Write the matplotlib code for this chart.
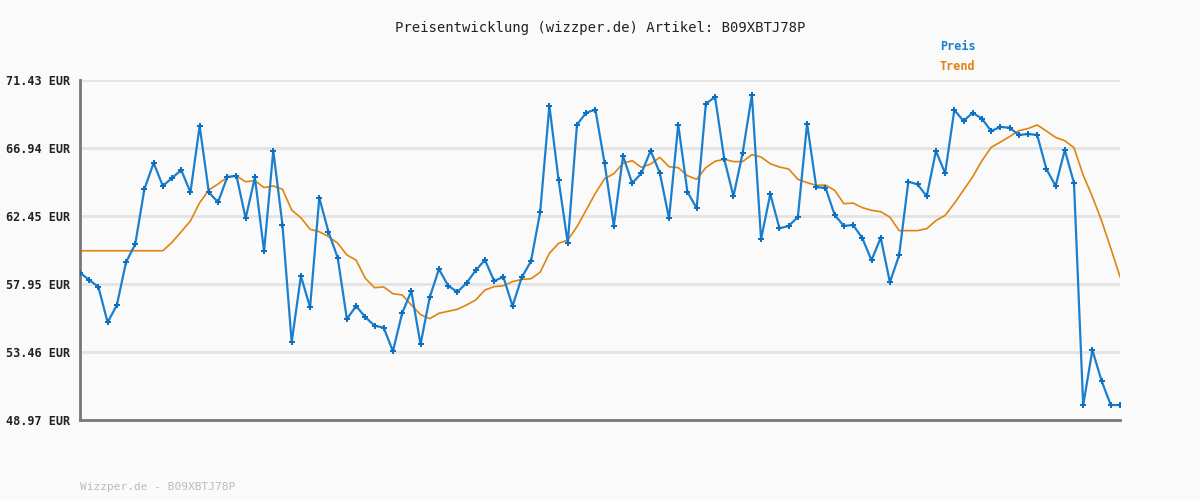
import numpy as np
import matplotlib
matplotlib.use("Agg")
import matplotlib.pyplot as plt

# price history (EUR), one value per sample
preis = [58.70, 58.22, 57.76, 55.42, 56.55, 59.39, 60.58, 64.23, 65.95, 64.43,
         64.96, 65.48, 64.01, 68.39, 64.01, 63.35, 65.02, 65.11, 62.29, 65.00,
         60.11, 66.76, 61.85, 54.10, 58.48, 56.41, 63.65, 61.39, 59.69, 55.64,
         56.50, 55.77, 55.20, 55.07, 53.51, 56.02, 57.49, 53.97, 57.08, 58.94,
         57.84, 57.43, 58.02, 58.86, 59.54, 58.15, 58.42, 56.50, 58.40, 59.45,
         62.71, 69.73, 64.82, 60.66, 68.48, 69.27, 69.47, 65.93, 61.79, 66.41,
         64.61, 65.27, 66.76, 65.29, 62.29, 68.48, 64.03, 62.97, 69.86, 70.31,
         66.21, 63.75, 66.61, 70.44, 60.91, 63.90, 61.63, 61.79, 62.38, 68.54,
         64.34, 64.32, 62.51, 61.79, 61.85, 60.99, 59.52, 61.01, 58.07, 59.85,
         64.71, 64.54, 63.75, 66.74, 65.27, 69.45, 68.72, 69.27, 68.87, 68.06,
         68.33, 68.28, 67.80, 67.86, 67.80, 65.55, 64.43, 66.81, 64.63, 49.94,
         53.59, 51.55, 49.96, 49.96]

trend = [60.15, 60.15, 60.15, 60.15, 60.15, 60.15, 60.15, 60.15, 60.15, 60.15,
         60.71, 61.41, 62.12, 63.32, 64.16, 64.56, 65.00, 65.09, 64.71, 64.78,
         64.32, 64.43, 64.21, 62.84, 62.33, 61.57, 61.41, 61.08, 60.65, 59.87,
         59.53, 58.33, 57.71, 57.76, 57.31, 57.23, 56.57, 55.93, 55.66, 56.02,
         56.15, 56.28, 56.57, 56.90, 57.56, 57.78, 57.84, 58.11, 58.26, 58.30,
         58.73, 59.98, 60.64, 60.86, 61.74, 62.84, 63.95, 64.91, 65.24, 65.93,
         66.10, 65.66, 65.88, 66.32, 65.70, 65.64, 65.11, 64.87, 65.64, 66.06,
         66.19, 66.04, 66.04, 66.50, 66.34, 65.90, 65.68, 65.55, 64.87, 64.65,
         64.47, 64.49, 64.14, 63.26, 63.30, 63.00, 62.82, 62.73, 62.37, 61.48,
         61.48, 61.48, 61.61, 62.14, 62.49, 63.28, 64.16, 65.04, 66.10, 66.98,
         67.33, 67.69, 68.08, 68.22, 68.46, 68.06, 67.64, 67.42, 66.96, 65.15,
         63.72, 62.14, 60.31, 58.44]

ytick_vals = [48.97, 53.46, 57.95, 62.45, 66.94, 71.43]
ytick_labels = ["48.97 EUR", "53.46 EUR", "57.95 EUR", "62.45 EUR", "66.94 EUR", "71.43 EUR"]
artikel = "B09XBTJ78P"

blue = "#1a7fcf"
orange = "#e0830f"
bg = "#fafafa"

fig = plt.figure(figsize=(12, 5), dpi=100, facecolor=bg)
ax = fig.add_axes([80/1200, 80/500, 1040/1200, 340/500], facecolor=bg)

x = np.arange(len(preis))
for v in ytick_vals[1:]:
    ax.axhline(v, color="#e3e3e3", lw=2, zorder=0)

ax.plot(x, trend, color=orange, lw=1.2, zorder=2)
ax.plot(x, preis, color=blue, lw=1.6, marker="P", markersize=3.8, markeredgewidth=0,
        markerfacecolor="#0d6fc0", zorder=3)

ax.set_xlim(0, len(preis) - 1)
ax.set_ylim(ytick_vals[0], ytick_vals[-1])
ax.set_yticks(ytick_vals)
ax.set_yticklabels(ytick_labels, family="DejaVu Sans Mono", fontsize=8.5, fontweight="bold", color="#222222")
ax.set_xticks([])
ax.tick_params(axis="y", length=0, pad=7)

for s in ["top", "right"]:
    ax.spines[s].set_visible(False)
for s in ["left", "bottom"]:
    ax.spines[s].set_color("#777777")
    ax.spines[s].set_linewidth(2)

fig.text(0.5, 1 - 28/500, "Preisentwicklung (wizzper.de) Artikel: " + artikel, ha="center", va="center",
         family="DejaVu Sans Mono", fontsize=10, color="#222222")
fig.text(940/1200, 1 - 47/500, "Preis", ha="left", va="center",
         family="DejaVu Sans Mono", fontsize=8.5, fontweight="bold", color=blue)
fig.text(940/1200, 1 - 67/500, "Trend", ha="left", va="center",
         family="DejaVu Sans Mono", fontsize=8.5, fontweight="bold", color=orange)
fig.text(80/1200, 1 - 487/500, "Wizzper.de - " + artikel, ha="left", va="center",
         family="DejaVu Sans Mono", fontsize=8, color="#bbbbbb")

plt.savefig("out.png", dpi=100, facecolor=bg)
